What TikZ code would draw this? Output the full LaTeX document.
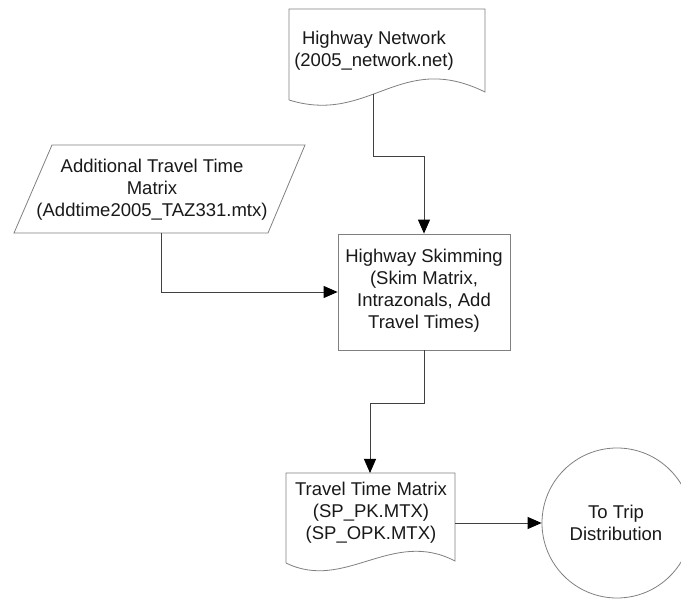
\documentclass[tikz,border=0pt]{standalone}
\usepackage{fontspec}
\setmainfont{Liberation Sans}
\usetikzlibrary{arrows.meta,calc}
\begin{document}
\begin{tikzpicture}[x=1pt,y=-1pt,
  shapeline/.style={draw=black!50, line width=0.8pt},
  conn/.style={draw=black!75, line width=0.9pt, -{Triangle[length=14pt,width=12pt,color=black]}},
  lbl/.style={align=center, text=black!90, font=\fontsize{18.5}{22}\selectfont, inner sep=0pt}]
\useasboundingbox (0,0) rectangle (681,601);
\fill[white] (0,0) rectangle (681,601);
% Highway Network document
\draw[shapeline] (289,100) -- (289,9) -- (485,9) -- (485,92)
  .. controls (400,50) and (370,125) .. (289,100);
\node[lbl] (hn) at (374,51) {Highway Network\\(2005\_network.net)};
\coordinate (hnout) at (373,94);
\coordinate (hnbend) at (0,156);
% Additional travel time parallelogram
\draw[shapeline] (52,145) -- (305,145) -- (268,233) -- (14,233) -- cycle;
\node[lbl] (att) at (152,190) {Additional Travel Time\\Matrix\\(Addtime2005\_TAZ331.mtx)};
\coordinate (pout) at (161,233);
% Highway skimming box
\node[shapeline, rectangle, minimum width=172pt, minimum height=116pt, inner sep=0pt] (skim) at (424,292) {};
\node[lbl] (skimtxt) at (424,291) {Highway Skimming\\(Skim Matrix,\\Intrazonals, Add\\Travel Times)};
% Travel time matrix document
\draw[shapeline] (286,563) -- (286,473) -- (455,473) -- (455,561)
  .. controls (392,528) and (345,592) .. (286,563);
\node[lbl] (tt) at (371,513) {Travel Time Matrix\\(SP\_PK.MTX)\\(SP\_OPK.MTX)};
\coordinate (ttin) at (370,473);
\coordinate (ttout) at (455,523);
% To trip distribution circle
\node[shapeline, circle, minimum size=150pt, inner sep=0pt] (trip) at (617,523) {};
\node[lbl] (triptxt) at (616,523) {To Trip\\Distribution};
% connectors
\draw[conn] (hnout) -- (hnout |- hnbend) -| (skim.north);
\draw[conn] (pout) |- (skim.west);
\draw[conn] (skim.south) -- ++(0,53) -| (ttin);
\draw[conn] (ttout) -- (trip.west);
\end{tikzpicture}
\end{document}
